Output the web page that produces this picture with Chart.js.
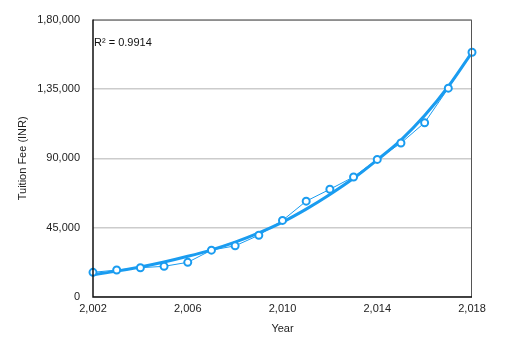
<!DOCTYPE html>
<html>
<head>
<meta charset="utf-8">
<script src="https://cdn.jsdelivr.net/npm/chart.js@4/dist/chart.umd.min.js"></script>
<style>
html,body{margin:0;padding:0;background:#fff;}
#wrap{width:510px;height:353px;position:relative;}
</style>
</head>
<body>
<div id="wrap"><canvas id="c" width="510" height="353"></canvas></div>
<script>
const years = [2002,2003,2004,2005,2006,2007,2008,2009,2010,2011,2012,2013,2014,2015,2016,2017,2018];
const tuitionFee = [16000,17500,19000,19900,22500,30400,33200,40100,49700,62200,69900,77900,89300,99900,113100,135500,158800];
const trendFee = [14500,16800,19500,22700,26400,30600,35600,41600,48600,57000,66500,77000,89000,101800,117700,136600,158800];
const yTicks = [0,45000,90000,135000,180000];
const xTicks = [2002,2006,2010,2014,2018];
const rSquaredLabel = 'R² = 0.9914';
const xTitle = 'Year';
const yTitle = 'Tuition Fee (INR)';

function indian(n){
  const s = String(Math.round(n));
  if (s.length <= 3) return s;
  const last3 = s.slice(-3);
  let rest = s.slice(0,-3);
  const parts = [];
  while (rest.length > 2){ parts.unshift(rest.slice(-2)); rest = rest.slice(0,-2); }
  if (rest) parts.unshift(rest);
  return parts.join(',') + ',' + last3;
}

const blue = '#1a9cf0';
const font = {family:'"Liberation Sans", Arial, sans-serif', size:11};

const framePlugin = {
  id:'frame',
  afterDraw(chart){
    const {ctx, chartArea:a} = chart;
    ctx.save();
    ctx.strokeStyle = '#555';
    ctx.lineWidth = 1;
    ctx.beginPath();
    ctx.moveTo(a.left, a.top+0.5);
    ctx.lineTo(a.right-0.5, a.top+0.5);
    ctx.lineTo(a.right-0.5, a.bottom);
    ctx.stroke();
    ctx.strokeStyle = '#111';
    ctx.lineWidth = 1.5;
    ctx.beginPath();
    ctx.moveTo(a.left, a.top);
    ctx.lineTo(a.left, a.bottom);
    ctx.lineTo(a.right, a.bottom);
    ctx.stroke();
    ctx.fillStyle = '#111';
    ctx.font = '11px "Liberation Sans", Arial, sans-serif';
    ctx.textBaseline = 'middle';
    ctx.textAlign = 'left';
    ctx.fillText(rSquaredLabel, a.left+1, a.top+23);
    ctx.restore();
  }
};

new Chart(document.getElementById('c'), {
  type:'line',
  data:{
    datasets:[
      {
        label:'Trend',
        data: years.map((y,i)=>({x:y, y:trendFee[i]})),
        borderColor: blue,
        borderWidth: 3,
        pointRadius: 0,
        cubicInterpolationMode:'monotone',
        fill:false,
        order:1
      },
      {
        label:'Tuition Fee',
        data: years.map((y,i)=>({x:y, y:tuitionFee[i]})),
        borderColor: blue,
        borderWidth: 1,
        pointRadius: 3.5,
        pointBorderWidth: 2,
        pointBackgroundColor:'#fff',
        pointBorderColor: blue,
        tension:0,
        fill:false,
        clip:false,
        order:0
      }
    ]
  },
  options:{
    responsive:false,
    animation:false,
    layout:{padding:{top:19, right:38, bottom:13, left:0}},
    plugins:{legend:{display:false}, tooltip:{enabled:false}},
    scales:{
      x:{
        type:'linear', min:2002, max:2018,
        afterBuildTicks(axis){ axis.ticks = xTicks.map(v=>({value:v})); },
        afterFit(axis){ axis.height = 43; },
        ticks:{font, color:'#222', padding:5, callback:v=>indian(v), maxRotation:0},
        grid:{display:false, drawTicks:false},
        border:{display:false},
        title:{display:true, text:xTitle, font, color:'#222', padding:{top:4, bottom:4}}
      },
      y:{
        min:0, max:180000,
        afterBuildTicks(axis){ axis.ticks = yTicks.map(v=>({value:v})); },
        afterFit(axis){ axis.width = 93; },
        ticks:{font, color:'#222', padding:13, callback:v=>indian(v)},
        grid:{color:'#cccccc', lineWidth:1.5, drawTicks:false},
        border:{display:false},
        title:{display:true, text:yTitle, font, color:'#222', padding:{top:16, bottom:0}}
      }
    }
  },
  plugins:[framePlugin]
});
</script>
</body>
</html>
